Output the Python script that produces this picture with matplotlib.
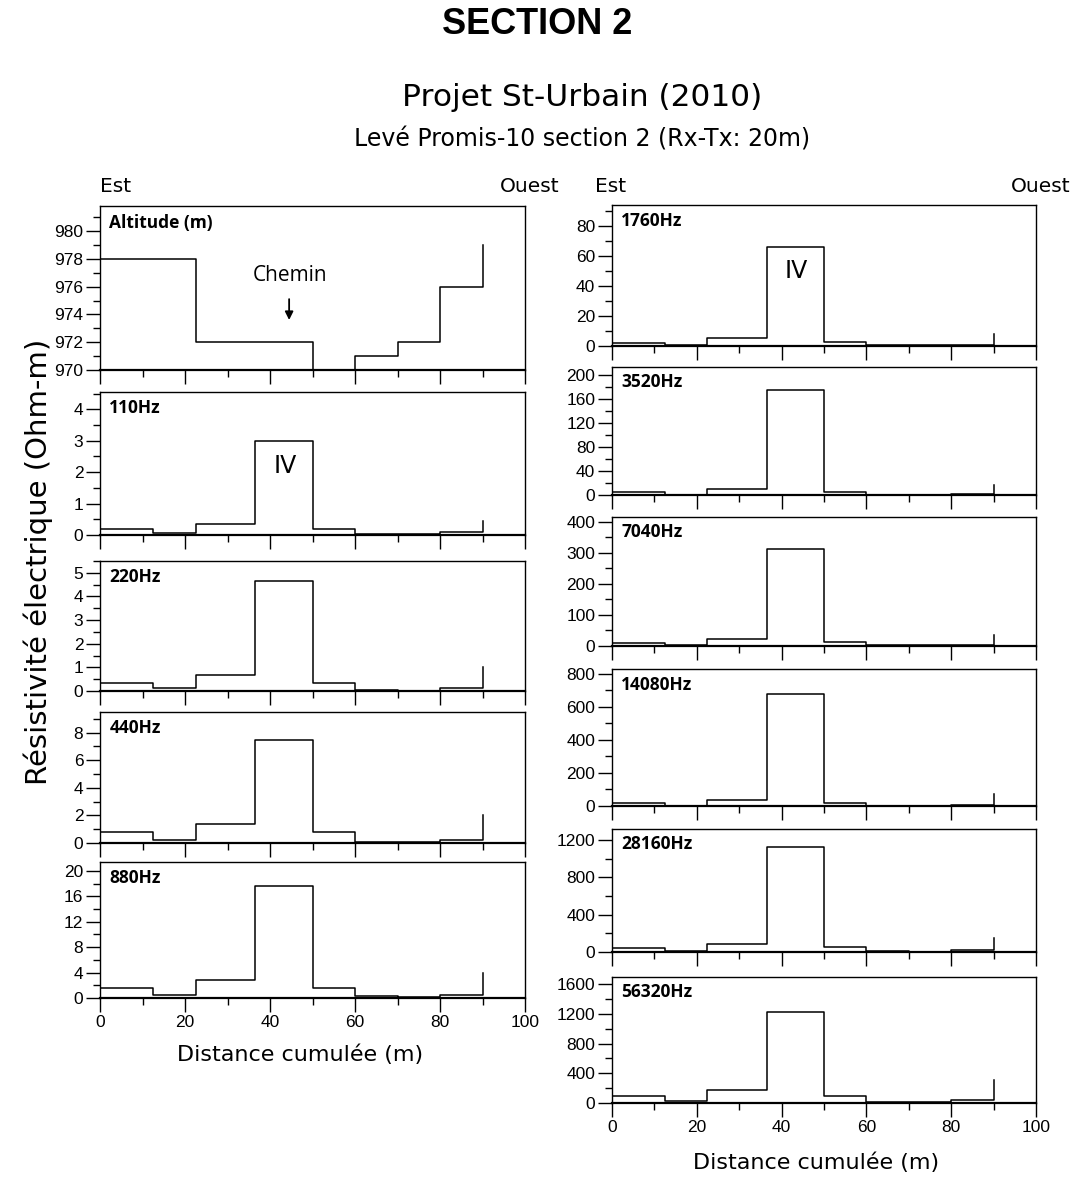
import matplotlib
matplotlib.use("Agg")
import matplotlib.pyplot as plt
from matplotlib.ticker import MultipleLocator

# ---- data ----
dist_edges = [0, 12.5, 22.5, 36.5, 50, 60, 70, 80, 90]   # last value = end spike at 90 m
alt_edges = [0, 22.5, 50, 60, 70, 80, 90]
altitude = [978, 972, 970, 971, 972, 976, 979]

rho_110 = [0.19, 0.07, 0.34, 3.0, 0.19, 0.03, 0.03, 0.085, 0.43]
rho_220 = [0.35, 0.13, 0.68, 4.65, 0.35, 0.05, 0.02, 0.12, 1.0]
rho_440 = [0.8, 0.25, 1.36, 7.5, 0.8, 0.1, 0.05, 0.25, 2.05]
rho_880 = [1.5, 0.55, 2.85, 17.7, 1.5, 0.3, 0.22, 0.55, 3.95]
rho_1760 = [2.2, 0.7, 5.6, 66.0, 2.7, 0.4, 0.4, 0.9, 8.0]
rho_3520 = [4.4, 0.6, 10.6, 175.0, 5.0, 0.5, 0.5, 1.7, 16.0]
rho_7040 = [9.6, 2.0, 21.0, 314.0, 12.9, 2.0, 2.0, 4.0, 35.0]
rho_14080 = [20.0, 2.0, 34.0, 680.0, 18.0, 2.0, 2.0, 4.0, 71.0]
rho_28160 = [46.0, 10.0, 85.0, 1120.0, 53.0, 7.0, 4.0, 18.0, 150.0]
rho_56320 = [89.0, 22.0, 170.0, 1220.0, 98.0, 13.0, 13.0, 36.0, 313.0]

W, H = 1073, 1179
fig = plt.figure(figsize=(W / 100, H / 100), dpi=100)

TICK_FAMILY = "Liberation Sans"
TICK_SIZE = 12.5
BIG_FONT = "DejaVu Sans"


def add_panel(x0, x1, ytop, ybot):
    return fig.add_axes([x0 / W, 1 - ybot / H, (x1 - x0) / W, (ybot - ytop) / H])


def style_axes(ax, ymin, ymax, major, minor, show_x):
    ax.set_xlim(0, 100)
    ax.set_ylim(ymin, ymax)
    ax.xaxis.set_major_locator(MultipleLocator(20))
    ax.xaxis.set_minor_locator(MultipleLocator(10))
    ax.yaxis.set_major_locator(MultipleLocator(major))
    ax.yaxis.set_minor_locator(MultipleLocator(minor))
    ax.tick_params(which="both", direction="out", top=False, right=False, width=1.0)
    ax.tick_params(which="major", length=10, pad=2)
    ax.tick_params(which="minor", length=5)
    for lab in ax.get_yticklabels():
        lab.set_fontfamily(TICK_FAMILY)
        lab.set_fontsize(TICK_SIZE)
    if show_x:
        for lab in ax.get_xticklabels():
            lab.set_fontfamily(TICK_FAMILY)
            lab.set_fontsize(TICK_SIZE)
    else:
        ax.set_xticklabels([])
    for sp in ax.spines.values():
        sp.set_linewidth(1.0)
    ax.spines["bottom"].set_linewidth(1.6)


def panel_label(ax, text):
    ax.text(0.022, 0.95, text, transform=ax.transAxes, ha="left", va="top",
            fontsize=12.5, fontweight="bold", family="Open Sans")


# ---- left column ----
ax = add_panel(100, 525, 206, 370)
ax.step(alt_edges, altitude, where="post", color="k", lw=1.1)
style_axes(ax, 970, 981.8, 2, 1, False)
panel_label(ax, "Altitude (m)")
ax.text(44.7, 976.8, "Chemin", ha="center", va="center", fontsize=15, family="Open Sans")
ax.annotate("", xy=(44.5, 973.4), xytext=(44.5, 975.3),
            arrowprops=dict(arrowstyle="-|>", color="k", lw=1.3, mutation_scale=12))

left_panels = [
    ("110Hz", rho_110, 392, 535, 4.55, 1, 0.5),
    ("220Hz", rho_220, 561, 691, 5.5, 1, 0.5),
    ("440Hz", rho_440, 712, 843, 9.5, 2, 1),
    ("880Hz", rho_880, 862, 998, 21.4, 4, 2),
]
for i, (name, vals, yt, yb, ymax, maj, mnr) in enumerate(left_panels):
    ax = add_panel(100, 525, yt, yb)
    ax.step(dist_edges, vals, where="post", color="k", lw=1.1)
    style_axes(ax, 0, ymax, maj, mnr, i == len(left_panels) - 1)
    panel_label(ax, name)
    if name == "110Hz":
        ax.text(43.5, 2.2, "IV", ha="center", va="center", fontsize=17, family=BIG_FONT)

# ---- right column ----
right_panels = [
    ("1760Hz", rho_1760, 205, 346, 94, 20, 10),
    ("3520Hz", rho_3520, 367, 495, 213, 40, 20),
    ("7040Hz", rho_7040, 517, 646, 416, 100, 50),
    ("14080Hz", rho_14080, 669, 806, 830, 200, 100),
    ("28160Hz", rho_28160, 829, 952, 1317, 400, 200),
    ("56320Hz", rho_56320, 977, 1103, 1697, 400, 200),
]
for i, (name, vals, yt, yb, ymax, maj, mnr) in enumerate(right_panels):
    ax = add_panel(612, 1036, yt, yb)
    ax.step(dist_edges, vals, where="post", color="k", lw=1.1)
    style_axes(ax, 0, ymax, maj, mnr, i == len(right_panels) - 1)
    panel_label(ax, name)
    if name == "1760Hz":
        ax.text(43.4, 50, "IV", ha="center", va="center", fontsize=17, family=BIG_FONT)

# ---- titles and side labels ----
fig.text(537 / W, 1 - 25 / H, "SECTION 2", ha="center", va="center",
         fontsize=26, fontweight="bold", family="Liberation Sans")
fig.text(582 / W, 1 - 97 / H, "Projet St-Urbain (2010)", ha="center", va="center",
         fontsize=22.5, family=BIG_FONT)
fig.text(582 / W, 1 - 140 / H, "Levé Promis-10 section 2 (Rx-Tx: 20m)", ha="center",
         va="center", fontsize=17, family=BIG_FONT)
for x, txt, ha in [(100, "Est", "left"), (560, "Ouest", "right"),
                   (595, "Est", "left"), (1070, "Ouest", "right")]:
    fig.text(x / W, 1 - 186 / H, txt, ha=ha, va="center", fontsize=14.5, family=BIG_FONT)
fig.text(38 / W, 1 - 562 / H, "Résistivité électrique (Ohm-m)", rotation=90,
         ha="center", va="center", fontsize=21, family=BIG_FONT)
fig.text(300 / W, 1 - 1055 / H, "Distance cumulée (m)", ha="center", va="center",
         fontsize=16, family=BIG_FONT)
fig.text(816 / W, 1 - 1163 / H, "Distance cumulée (m)", ha="center", va="center",
         fontsize=16, family=BIG_FONT)

fig.savefig("out.png", dpi=100)
